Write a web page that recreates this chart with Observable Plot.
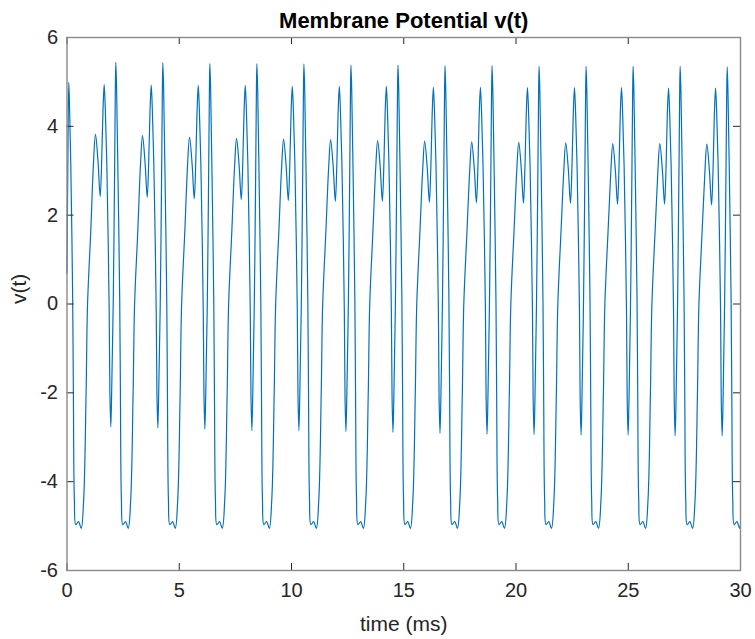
<!DOCTYPE html>
<html><head><meta charset="utf-8">
<script src="https://cdn.jsdelivr.net/npm/d3@7"></script>
<script src="https://cdn.jsdelivr.net/npm/@observablehq/plot@0.6"></script>
<style>body{margin:0;background:#fff}</style>
</head><body><div id="chart"></div>
<script>
const titleText = "Membrane Potential v(t)";
const xLabel = "time (ms)";
const yLabel = "v(t)";
const xTicks = [0, 5, 10, 15, 20, 25, 30];
const yTicks = [-6, -4, -2, 0, 2, 4, 6];

// time (ms)
const timeMs = [
  0, 0.040, 0.079,
  0.115, 0.168, 0.253, 0.284, 0.328, 0.391, 0.511, 0.631, 0.743, 0.850, 0.916, 1.059, 1.179, 1.268, 1.380, 1.478, 1.544, 1.602, 1.656, 1.709, 1.772, 1.879, 1.910, 1.950, 1.990, 2.061, 2.124, 2.150, 2.174,
  2.210, 2.263, 2.348, 2.379, 2.423, 2.486, 2.606, 2.726, 2.838, 2.945, 3.011, 3.154, 3.274, 3.363, 3.475, 3.573, 3.639, 3.697, 3.751, 3.804, 3.867, 3.974, 4.005, 4.045, 4.085, 4.156, 4.219, 4.245, 4.269,
  4.305, 4.358, 4.443, 4.474, 4.518, 4.581, 4.701, 4.821, 4.933, 5.040, 5.106, 5.249, 5.369, 5.458, 5.570, 5.668, 5.734, 5.792, 5.846, 5.899, 5.962, 6.069, 6.100, 6.140, 6.180, 6.251, 6.314, 6.340, 6.363,
  6.399, 6.452, 6.537, 6.568, 6.612, 6.675, 6.795, 6.915, 7.027, 7.134, 7.200, 7.343, 7.463, 7.552, 7.664, 7.762, 7.828, 7.886, 7.940, 7.993, 8.056, 8.163, 8.194, 8.234, 8.274, 8.345, 8.408, 8.434, 8.458,
  8.494, 8.547, 8.632, 8.663, 8.707, 8.770, 8.890, 9.010, 9.122, 9.229, 9.295, 9.438, 9.558, 9.647, 9.759, 9.857, 9.923, 9.981, 10.035, 10.088, 10.151, 10.258, 10.289, 10.329, 10.369, 10.440, 10.503, 10.529, 10.553,
  10.589, 10.642, 10.727, 10.758, 10.802, 10.865, 10.985, 11.105, 11.217, 11.324, 11.390, 11.533, 11.653, 11.742, 11.854, 11.952, 12.018, 12.076, 12.130, 12.183, 12.246, 12.353, 12.384, 12.424, 12.464, 12.535, 12.598, 12.624, 12.648,
  12.684, 12.737, 12.822, 12.853, 12.897, 12.960, 13.080, 13.200, 13.312, 13.419, 13.485, 13.628, 13.748, 13.837, 13.949, 14.047, 14.113, 14.171, 14.225, 14.278, 14.341, 14.448, 14.479, 14.519, 14.559, 14.630, 14.693, 14.719, 14.743,
  14.779, 14.832, 14.917, 14.948, 14.992, 15.055, 15.175, 15.295, 15.407, 15.514, 15.580, 15.723, 15.843, 15.932, 16.044, 16.142, 16.208, 16.266, 16.320, 16.373, 16.436, 16.543, 16.574, 16.614, 16.654, 16.725, 16.788, 16.814, 16.838,
  16.874, 16.927, 17.012, 17.043, 17.087, 17.150, 17.270, 17.390, 17.502, 17.609, 17.675, 17.818, 17.938, 18.027, 18.139, 18.237, 18.303, 18.361, 18.415, 18.468, 18.531, 18.638, 18.669, 18.709, 18.749, 18.820, 18.883, 18.909, 18.933,
  18.969, 19.022, 19.107, 19.138, 19.182, 19.245, 19.365, 19.485, 19.597, 19.704, 19.770, 19.913, 20.033, 20.122, 20.234, 20.332, 20.398, 20.456, 20.510, 20.563, 20.626, 20.733, 20.764, 20.804, 20.844, 20.915, 20.978, 21.004, 21.027,
  21.063, 21.116, 21.201, 21.232, 21.276, 21.339, 21.459, 21.579, 21.691, 21.798, 21.864, 22.007, 22.127, 22.216, 22.328, 22.426, 22.492, 22.550, 22.604, 22.657, 22.720, 22.827, 22.858, 22.898, 22.938, 23.009, 23.072, 23.098, 23.122,
  23.158, 23.211, 23.296, 23.327, 23.371, 23.434, 23.554, 23.674, 23.786, 23.893, 23.959, 24.102, 24.222, 24.311, 24.423, 24.521, 24.587, 24.645, 24.699, 24.752, 24.815, 24.922, 24.953, 24.993, 25.033, 25.104, 25.167, 25.193, 25.217,
  25.253, 25.306, 25.391, 25.422, 25.466, 25.529, 25.649, 25.769, 25.881, 25.988, 26.054, 26.197, 26.317, 26.406, 26.518, 26.616, 26.682, 26.740, 26.794, 26.847, 26.910, 27.017, 27.048, 27.088, 27.128, 27.199, 27.262, 27.288, 27.312,
  27.348, 27.401, 27.486, 27.517, 27.561, 27.624, 27.744, 27.864, 27.976, 28.083, 28.149, 28.292, 28.412, 28.501, 28.613, 28.711, 28.777, 28.835, 28.889, 28.942, 29.005, 29.112, 29.143, 29.183, 29.223, 29.294, 29.357, 29.383, 29.407,
  29.443, 29.496, 29.581, 29.612, 29.656, 29.719, 29.839, 29.959, 30.000
];

// membrane potential v(t)
const voltage = [
  0.69, 3.30, 4.99,
  4.40, 3.16, 0.10, -2.00, -4.40, -4.97, -4.90, -5.05, -4.40, -2.00, 0.00, 1.65, 3.17, 3.82, 3.22, 2.42, 3.22, 4.34, 4.94, 4.34, 3.19, -0.15, -1.97, -2.77, -1.97, 0.10, 3.16, 4.69, 5.44,
  4.84, 3.16, 0.10, -2.00, -4.40, -4.97, -4.90, -5.05, -4.40, -2.00, 0.00, 1.65, 3.14, 3.79, 3.20, 2.40, 3.20, 4.33, 4.93, 4.33, 3.18, -0.15, -1.99, -2.79, -1.99, 0.10, 3.16, 4.68, 5.43,
  4.83, 3.16, 0.10, -2.00, -4.40, -4.97, -4.90, -5.05, -4.40, -2.00, 0.00, 1.65, 3.11, 3.76, 3.17, 2.37, 3.17, 4.32, 4.92, 4.32, 3.17, -0.15, -2.02, -2.82, -2.02, 0.10, 3.16, 4.66, 5.41,
  4.81, 3.16, 0.10, -2.00, -4.40, -4.97, -4.90, -5.05, -4.40, -2.00, 0.00, 1.65, 3.08, 3.73, 3.14, 2.35, 3.15, 4.32, 4.92, 4.32, 3.17, -0.15, -2.05, -2.85, -2.05, 0.10, 3.16, 4.66, 5.41,
  4.81, 3.16, 0.10, -2.00, -4.40, -4.97, -4.90, -5.05, -4.40, -2.00, 0.00, 1.65, 3.06, 3.71, 3.12, 2.33, 3.13, 4.30, 4.90, 4.30, 3.15, -0.15, -2.05, -2.85, -2.05, 0.10, 3.16, 4.65, 5.40,
  4.80, 3.16, 0.10, -2.00, -4.40, -4.97, -4.90, -5.05, -4.40, -2.00, 0.00, 1.65, 3.05, 3.70, 3.11, 2.31, 3.11, 4.30, 4.90, 4.30, 3.15, -0.15, -2.07, -2.87, -2.07, 0.10, 3.16, 4.63, 5.38,
  4.78, 3.16, 0.10, -2.00, -4.40, -4.97, -4.90, -5.05, -4.40, -2.00, 0.00, 1.65, 3.03, 3.68, 3.10, 2.31, 3.11, 4.30, 4.90, 4.30, 3.15, -0.15, -2.09, -2.89, -2.09, 0.10, 3.16, 4.63, 5.38,
  4.78, 3.16, 0.10, -2.00, -4.40, -4.97, -4.90, -5.05, -4.40, -2.00, 0.00, 1.65, 3.02, 3.67, 3.08, 2.29, 3.09, 4.28, 4.88, 4.28, 3.13, -0.15, -2.11, -2.91, -2.11, 0.10, 3.16, 4.61, 5.36,
  4.76, 3.16, 0.10, -2.00, -4.40, -4.97, -4.90, -5.05, -4.40, -2.00, 0.00, 1.65, 3.00, 3.65, 3.07, 2.28, 3.08, 4.28, 4.88, 4.28, 3.13, -0.15, -2.13, -2.93, -2.13, 0.10, 3.16, 4.61, 5.36,
  4.76, 3.16, 0.10, -2.00, -4.40, -4.97, -4.90, -5.05, -4.40, -2.00, 0.00, 1.65, 2.99, 3.64, 3.06, 2.27, 3.07, 4.27, 4.87, 4.27, 3.12, -0.15, -2.14, -2.94, -2.14, 0.10, 3.16, 4.60, 5.35,
  4.75, 3.16, 0.10, -2.00, -4.40, -4.97, -4.90, -5.05, -4.40, -2.00, 0.00, 1.65, 2.98, 3.63, 3.05, 2.27, 3.07, 4.27, 4.87, 4.27, 3.12, -0.15, -2.15, -2.95, -2.15, 0.10, 3.16, 4.60, 5.35,
  4.75, 3.16, 0.10, -2.00, -4.40, -4.97, -4.90, -5.05, -4.40, -2.00, 0.00, 1.65, 2.96, 3.61, 3.03, 2.25, 3.05, 4.27, 4.87, 4.27, 3.12, -0.15, -2.15, -2.95, -2.15, 0.10, 3.16, 4.60, 5.35,
  4.75, 3.16, 0.10, -2.00, -4.40, -4.97, -4.90, -5.05, -4.40, -2.00, 0.00, 1.65, 2.96, 3.61, 3.03, 2.25, 3.05, 4.26, 4.86, 4.26, 3.11, -0.15, -2.17, -2.97, -2.17, 0.10, 3.16, 4.60, 5.35,
  4.75, 3.16, 0.10, -2.00, -4.40, -4.97, -4.90, -5.05, -4.40, -2.00, 0.00, 1.65, 2.95, 3.60, 3.02, 2.23, 3.03, 4.26, 4.86, 4.26, 3.11, -0.15, -2.17, -2.97, -2.17, 0.10, 3.16, 4.59, 5.34,
  4.74, 3.16, 0.10, -2.00, -4.40, -4.97, -4.90, -5.05, -4.97
];

const trace = timeMs.map((t, i) => ({t, v: voltage[i]}));

const W = 755, H = 639;
const mL = 66.5, mR = 15, mT = 37, mB = 69;
const innerW = W - mL - mR, innerH = H - mT - mB;
const tickLen = 7;
const ink = "#262626";

const chart = Plot.plot({
  width: W,
  height: H,
  marginLeft: mL,
  marginRight: mR,
  marginTop: mT,
  marginBottom: mB,
  x: {domain: [0, 30]},
  y: {domain: [-6, 6]},
  style: {fontFamily: "'Liberation Sans', Arial, Helvetica, sans-serif", color: ink, background: "white", overflow: "visible"},
  marks: [
    Plot.lineY(trace, {x: "t", y: "v", stroke: "#0072BD", strokeWidth: 1.2, curve: "catmull-rom"}),
    Plot.tickX(xTicks, {x: d => d, insetTop: innerH - tickLen, stroke: ink, strokeWidth: 1}),
    Plot.tickX(xTicks, {x: d => d, insetBottom: innerH - tickLen, stroke: ink, strokeWidth: 1}),
    Plot.tickY(yTicks, {y: d => d, insetRight: innerW - tickLen, stroke: ink, strokeWidth: 1}),
    Plot.tickY(yTicks, {y: d => d, insetLeft: innerW - tickLen, stroke: ink, strokeWidth: 1}),
    Plot.frame({stroke: "#8a8a8a", strokeWidth: 1.4}),
    Plot.axisX(xTicks, {tickSize: 0, tickPadding: 12, fontSize: 20, label: null, tickFormat: d => String(d), fill: ink}),
    Plot.axisY(yTicks, {tickSize: 0, tickPadding: 9, fontSize: 20, label: null, tickFormat: d => String(d), fill: ink}),
    Plot.text([xLabel], {frameAnchor: "bottom", lineAnchor: "middle", dy: 54, fontSize: 21, fill: ink, text: d => d}),
    Plot.text([yLabel], {frameAnchor: "left", dx: -48, rotate: -90, fontSize: 21, fill: ink, text: d => d}),
    Plot.text([titleText], {frameAnchor: "top", lineAnchor: "middle", dy: -17, fontSize: 22, fontWeight: "bold", fill: "#000", text: d => d})
  ]
});
document.getElementById("chart").append(chart);
</script>
</body></html>
